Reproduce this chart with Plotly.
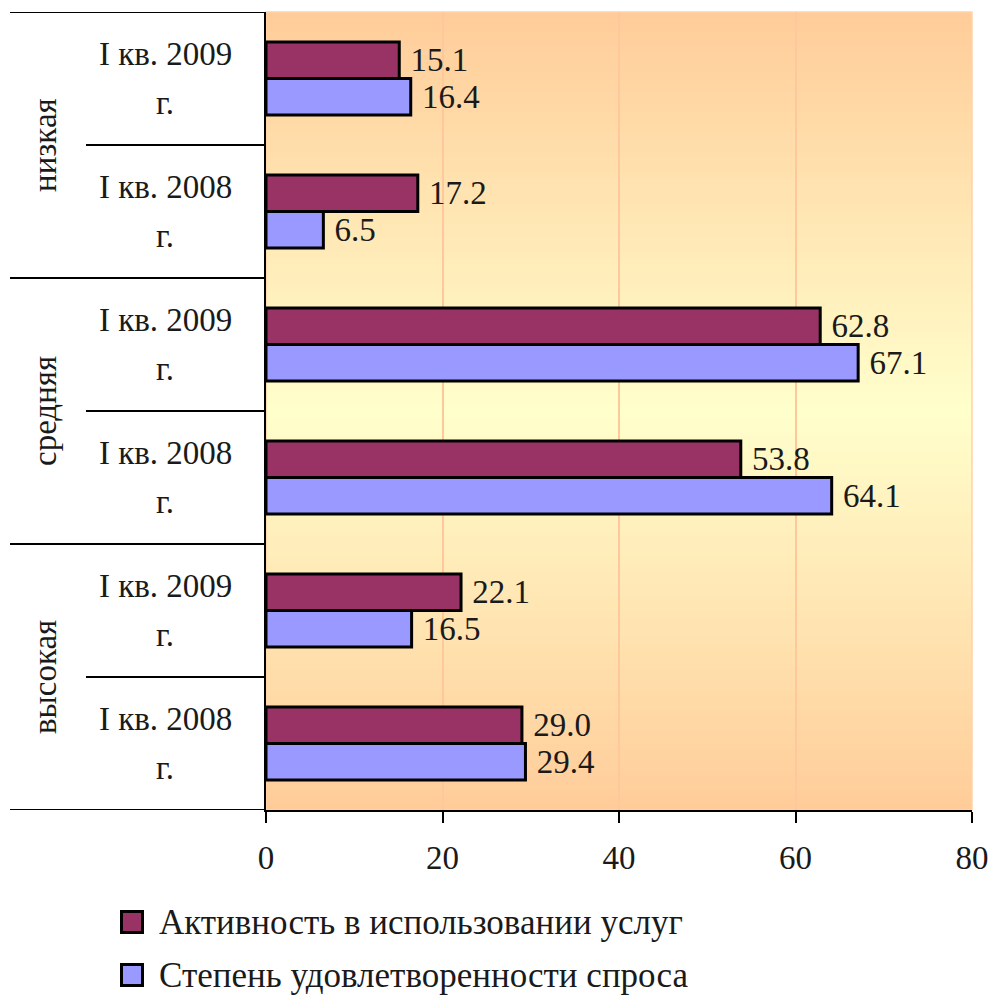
import plotly.graph_objects as go

# ---------------- data ----------------
group_names = ["высокая", "средняя", "низкая"]          # bottom -> top
period_line1 = ["I кв. 2008", "I кв. 2009",
                "I кв. 2008", "I кв. 2009",
                "I кв. 2008", "I кв. 2009"]
period_line2 = ["г.", "г.", "г.", "г.", "г.", "г."]
categories = ["высокая | I кв. 2008 г.", "высокая | I кв. 2009 г.",
              "средняя | I кв. 2008 г.", "средняя | I кв. 2009 г.",
              "низкая | I кв. 2008 г.", "низкая | I кв. 2009 г."]
activity = [29.0, 22.1, 53.8, 62.8, 17.2, 15.1]
satisfaction = [29.4, 16.5, 64.1, 67.1, 6.5, 16.4]
series_names = ["Активность в использовании услуг", "Степень удовлетворенности спроса"]
x_ticks = [0, 20, 40, 60, 80]

# ---------------- style ----------------
FONT = "Liberation Serif"
C_ACT = "#993366"
C_SAT = "#9999FF"
TXT = "#1a1a1a"
FS = 33
W, H = 994, 996
L, R, T, B = 266, 22, 12, 186
PW = W - L - R
PH = H - T - B


def px_x(p):
    return (p - L) / PW


def px_y(p):
    return (H - B - p) / PH


fig = go.Figure()

# satisfaction first -> drawn lower within each group
fig.add_trace(go.Bar(
    y=categories, x=satisfaction, orientation="h", name=series_names[1],
    marker=dict(color=C_SAT, line=dict(color="black", width=3)),
    text=satisfaction, texttemplate="\u2005%{x:.1f}", textposition="outside",
    textfont=dict(family=FONT, size=FS, color=TXT), constraintext="none",
    cliponaxis=False, showlegend=False, hoverinfo="skip"))
fig.add_trace(go.Bar(
    y=categories, x=activity, orientation="h", name=series_names[0],
    marker=dict(color=C_ACT, line=dict(color="black", width=3)),
    text=activity, texttemplate="\u2005%{x:.1f}", textposition="outside",
    textfont=dict(family=FONT, size=FS, color=TXT), constraintext="none",
    cliponaxis=False, showlegend=False, hoverinfo="skip"))

# ---------------- background gradient ----------------
shapes = []
N = 120
top = (255, 204, 153)
mid = (255, 255, 204)
for i in range(N):
    y0 = i / N
    y1 = (i + 1) / N
    c = abs((y0 + y1) / 2 - 0.5) / 0.5
    col = tuple(int(round(mid[k] + (top[k] - mid[k]) * c)) for k in range(3))
    shapes.append(dict(type="rect", xref="paper", yref="paper",
                       x0=0, x1=1, y0=y0, y1=min(1, y1 + 0.002),
                       fillcolor="rgb(%d,%d,%d)" % col, line=dict(width=0),
                       layer="below"))
shapes.append(dict(type="rect", xref="paper", yref="paper", x0=0, x1=1, y0=0, y1=1,
                   line=dict(color="#FFD2A8", width=1.5), layer="below"))

# ---------------- category axis drawn on the left ----------------
XL = px_x(10)
XS = px_x(86)
n = len(categories)
for b in [-0.5, 1.5, 3.5, 5.5]:
    shapes.append(dict(type="line", xref="paper", yref="y", x0=XL, x1=0,
                       y0=b, y1=b, line=dict(color="black", width=2)))
for b in [0.5, 2.5, 4.5]:
    shapes.append(dict(type="line", xref="paper", yref="y", x0=XS, x1=0,
                       y0=b, y1=b, line=dict(color="black", width=2)))

annotations = []
XC = px_x(165)
for i, cat in enumerate(categories):
    annotations.append(dict(xref="paper", yref="y", x=XC, y=cat, yshift=25,
                            xanchor="center", yanchor="middle",
                            text=period_line1[i], showarrow=False,
                            font=dict(family=FONT, size=FS, color=TXT)))
    annotations.append(dict(xref="paper", yref="y", x=XC, y=cat, yshift=-24,
                            xanchor="center", yanchor="middle",
                            text=period_line2[i], showarrow=False,
                            font=dict(family=FONT, size=FS, color=TXT)))
XG = px_x(45)
for gi, g in enumerate(group_names):
    annotations.append(dict(xref="paper", yref="y", x=XG, y=gi * 2 + 0.5,
                            xanchor="center", yanchor="middle",
                            text=g, textangle=-90, showarrow=False,
                            font=dict(family=FONT, size=FS, color=TXT)))

# ---------------- legend (drawn manually for large swatches) ----------------
for nm, col, cy in [(series_names[0], C_ACT, 922), (series_names[1], C_SAT, 975)]:
    shapes.append(dict(type="rect", xref="paper", yref="paper",
                       x0=px_x(121.5), x1=px_x(142.5), y0=px_y(cy + 10.5), y1=px_y(cy - 10.5),
                       fillcolor=col, line=dict(color="black", width=3)))
    annotations.append(dict(xref="paper", yref="paper", x=px_x(157), y=px_y(cy),
                            xanchor="left", yanchor="middle", text=nm, showarrow=False,
                            font=dict(family=FONT, size=35, color=TXT)))

fig.update_layout(
    width=W, height=H,
    margin=dict(l=L, r=R, t=T, b=B, autoexpand=False),
    paper_bgcolor="white", plot_bgcolor="rgba(0,0,0,0)",
    barmode="group", bargap=0.45, bargroupgap=0,
    shapes=shapes, annotations=annotations, showlegend=False,
    font=dict(family=FONT, size=FS, color=TXT),
    xaxis=dict(range=[0, 80], tickvals=x_ticks, ticks="outside", ticklen=11,
               tickwidth=2, tickcolor="black", showline=True, linecolor="black",
               linewidth=2, showgrid=True, gridcolor="#FFC79C", gridwidth=1.5,
               zeroline=False, automargin=False, ticklabelstandoff=6,
               tickfont=dict(family=FONT, size=FS, color=TXT)),
    yaxis=dict(type="category", categoryorder="array", categoryarray=categories,
               range=[-0.5, n - 0.5], showticklabels=False, ticks="",
               showline=True, linecolor="black", linewidth=2, showgrid=False,
               zeroline=False, automargin=False),
)

fig.write_html("out.html", config={"displayModeBar": False},
               post_script="document.body.style.margin='0px';")
